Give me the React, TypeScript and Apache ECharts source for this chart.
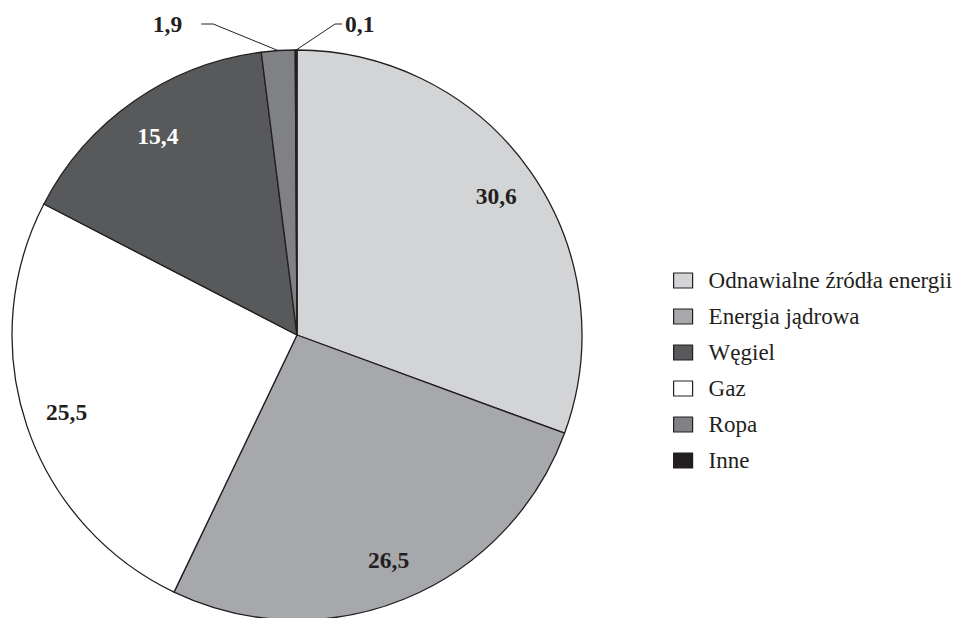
import React, { useEffect, useRef } from "react";
import * as echarts from "echarts";

const categories = ["Odnawialne źródła energii", "Energia jądrowa", "Gaz", "Węgiel", "Ropa", "Inne"];
const values = [30.6, 26.5, 25.5, 15.4, 1.9, 0.1];
const colors = ["#d3d4d6", "#a7a8ab", "#ffffff", "#58595b", "#808184", "#231f20"];
const legendOrder = ["Odnawialne źródła energii", "Energia jądrowa", "Węgiel", "Gaz", "Ropa", "Inne"];
const labelColors = ["#231f20", "#231f20", "#231f20", "#ffffff", "#231f20", "#231f20"];

const CX = 297;
const CY = 335;
const R = 285;
const LR = 243;
const FONT = "Liberation Serif, Times New Roman, serif";

export default function App() {
  const ref = useRef<HTMLDivElement>(null);
  useEffect(() => {
    if (!ref.current) return;
    const chart = echarts.init(ref.current, undefined, { renderer: "svg" });
    const total = values.reduce((a, b) => a + b, 0);
    const mids: number[] = [];
    let acc = 0;
    values.forEach((v) => {
      mids.push(((acc + v / 2) / total) * 360);
      acc += v;
    });
    const fmt = (v: number) => v.toFixed(1).replace(".", ",");
    chart.setOption({
      animation: false,
      backgroundColor: "#ffffff",
      legend: {
        orient: "vertical",
        left: 673,
        top: 269,
        padding: 0,
        itemWidth: 19,
        itemHeight: 15,
        itemGap: 13,
        icon: "rect",
        data: legendOrder,
        itemStyle: { borderColor: "#231f20", borderWidth: 1.2 },
        textStyle: {
          fontFamily: FONT,
          fontSize: 23,
          lineHeight: 20,
          color: "#231f20",
          padding: [0, 0, 0, 11],
        },
      },
      series: [
        {
          type: "pie",
          center: [CX, CY],
          radius: [0, R],
          startAngle: 90,
          clockwise: true,
          silent: true,
          avoidLabelOverlap: false,
          itemStyle: { borderColor: "#231f20", borderWidth: 1.3 },
          label: {
            show: true,
            position: "outside",
            fontFamily: FONT,
            fontWeight: "bold",
            fontSize: 23.5,
            formatter: (p: any) => fmt(p.value),
          },
          labelLine: { show: true, lineStyle: { color: "#231f20", width: 1 } },
          labelLayout: (params: any) => {
            const i = params.dataIndex;
            const rad = (mids[i] * Math.PI) / 180;
            if (values[i] >= 5) {
              return {
                x: CX + LR * Math.sin(rad),
                y: CY - LR * Math.cos(rad),
                align: "center",
                verticalAlign: "middle",
              };
            }
            const ex = CX + R * Math.sin(rad);
            const ey = CY - R * Math.cos(rad);
            const left = Math.sin(rad) < -0.01;
            const bx = ex + (left ? -65 : 39);
            const by = 24;
            const tx = bx + (left ? -12 : 7);
            return {
              x: left ? tx - 19 : tx + 3,
              y: by,
              align: left ? "right" : "left",
              verticalAlign: "middle",
              labelLinePoints: [
                [ex, ey],
                [bx, by],
                [tx, by],
              ],
            };
          },
          data: categories.map((name, i) => ({
            name,
            value: values[i],
            itemStyle: { color: colors[i] },
            label: {
              color: labelColors[i],
              position: values[i] >= 5 ? "inside" : "outside",
            },
          })),
        },
      ],
    });
    return () => chart.dispose();
  }, []);
  return (
    <div
      ref={ref}
      style={{ position: "fixed", left: 0, top: 0, width: 964, height: 618 }}
    />
  );
}
